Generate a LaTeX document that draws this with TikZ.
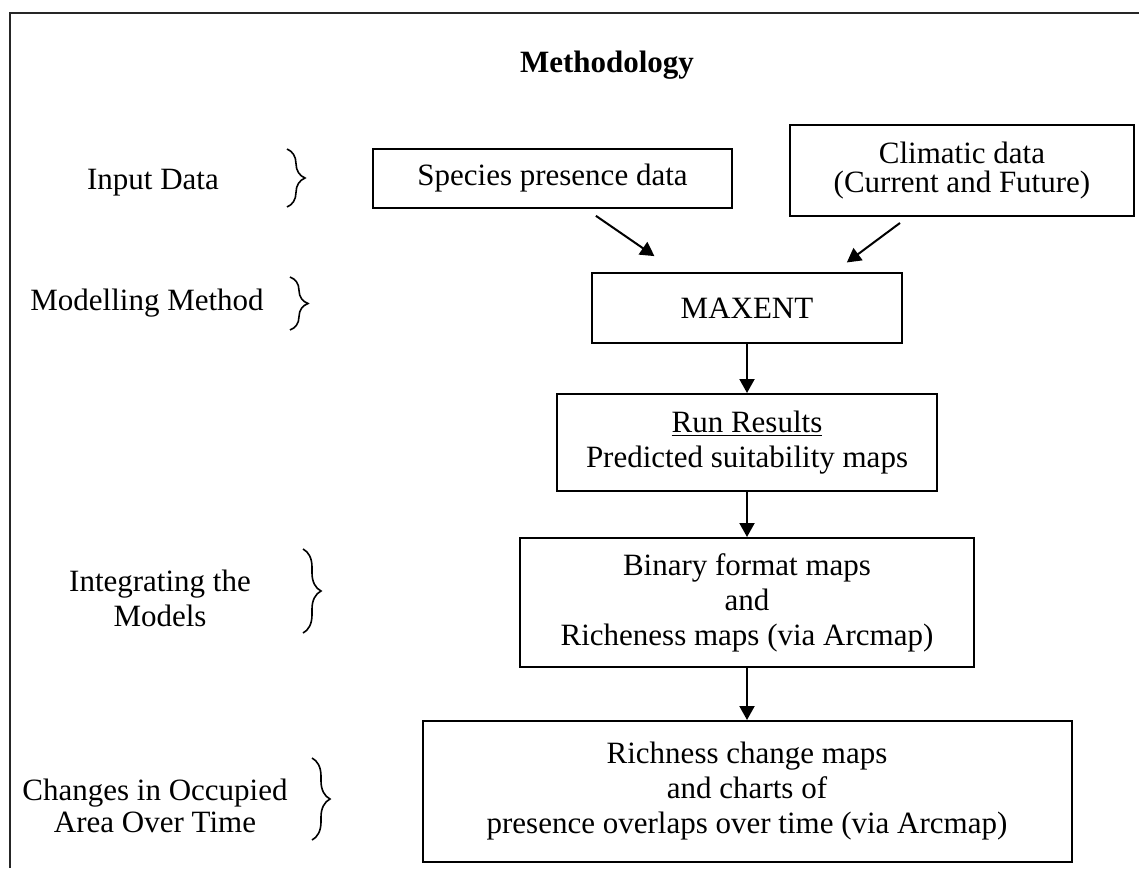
\documentclass[tikz,border=0pt]{standalone}
\usepackage{fontspec}
\setmainfont{Liberation Serif}
\usetikzlibrary{positioning, arrows.meta, decorations.pathreplacing}

\begin{document}
\begin{tikzpicture}[
      x=0.5pt, y=-0.5pt,
      font=\fontsize{15.5}{17.5}\selectfont,
      box/.style={rectangle, draw, line width=1pt, align=center, inner sep=2pt},
      side/.style={align=center},
      grp/.style={decorate, decoration={brace, amplitude=9pt}, line width=0.8pt},
      arrow/.style={-{Triangle[length=7pt, width=7.5pt]}, line width=1pt}
  ]
  \useasboundingbox (0,0) rectangle (1139,868);

  % Frame
  \draw[line width=1.3pt, black!85] (10,868) -- (10,13) -- (1139,13);

  % Nodes
  \node[font=\fontsize{15.5}{17.5}\selectfont\bfseries, anchor=base] (title) at (607,72) {Methodology};
  \node[box, minimum width=179.5pt, minimum height=29.5pt] (species) at (552.5,178.5) {Species presence data};
  \node[box, minimum width=172pt, minimum height=45.5pt, font=\fontsize{15.5}{14.5}\selectfont] (climate) at (962,170.5) {Climatic data\\(Current and Future)};
  \node[box, minimum width=155pt, minimum height=35pt] (maxent) at (747,308) {MAXENT};
  \node[box, minimum width=190pt, minimum height=48.5pt, below=24.5pt of maxent] (results) {\underline{Run Results}\\Predicted suitability maps};
  \node[box, minimum width=227pt, minimum height=64.5pt, below=22.5pt of results] (binary) {Binary format maps\\and\\Richeness maps (via Arcmap)};
  \node[box, minimum width=324.5pt, minimum height=70.5pt, below=26pt of binary] (change) {Richness change maps\\and charts of\\presence overlaps over time (via Arcmap)};

  % Arrows
  \draw[arrow, shorten <=6pt, shorten >=14pt] ([xshift=16.75pt]species.south) -- ([xshift=-34.75pt]maxent.north);
  \draw[arrow, shorten <=5pt, shorten >=8pt] ([xshift=-27pt]climate.south) -- ([xshift=43.5pt]maxent.north);
  \draw[arrow] (maxent) -- (results);
  \draw[arrow] (results) -- (binary);
  \draw[arrow] (binary) -- (change);

  % Stages
  \node[side] (input) at (153,183) {Input Data};
  \node[side] (method) at (147,303) {Modelling Method};
  \node[side] (integ) at (160,598) {Integrating the\\Models};
  \node[side, font=\fontsize{15.5}{16}\selectfont] (occupied) at (155,806) {Changes in Occupied\\Area Over Time};

  \draw[grp] (287,149) -- (287,207);
  \draw[grp] (290,277) -- (290,330);
  \draw[grp] (303,549) -- (303,633);
  \draw[grp] (312,758) -- (312,840);

  \end{tikzpicture}
\end{document}
